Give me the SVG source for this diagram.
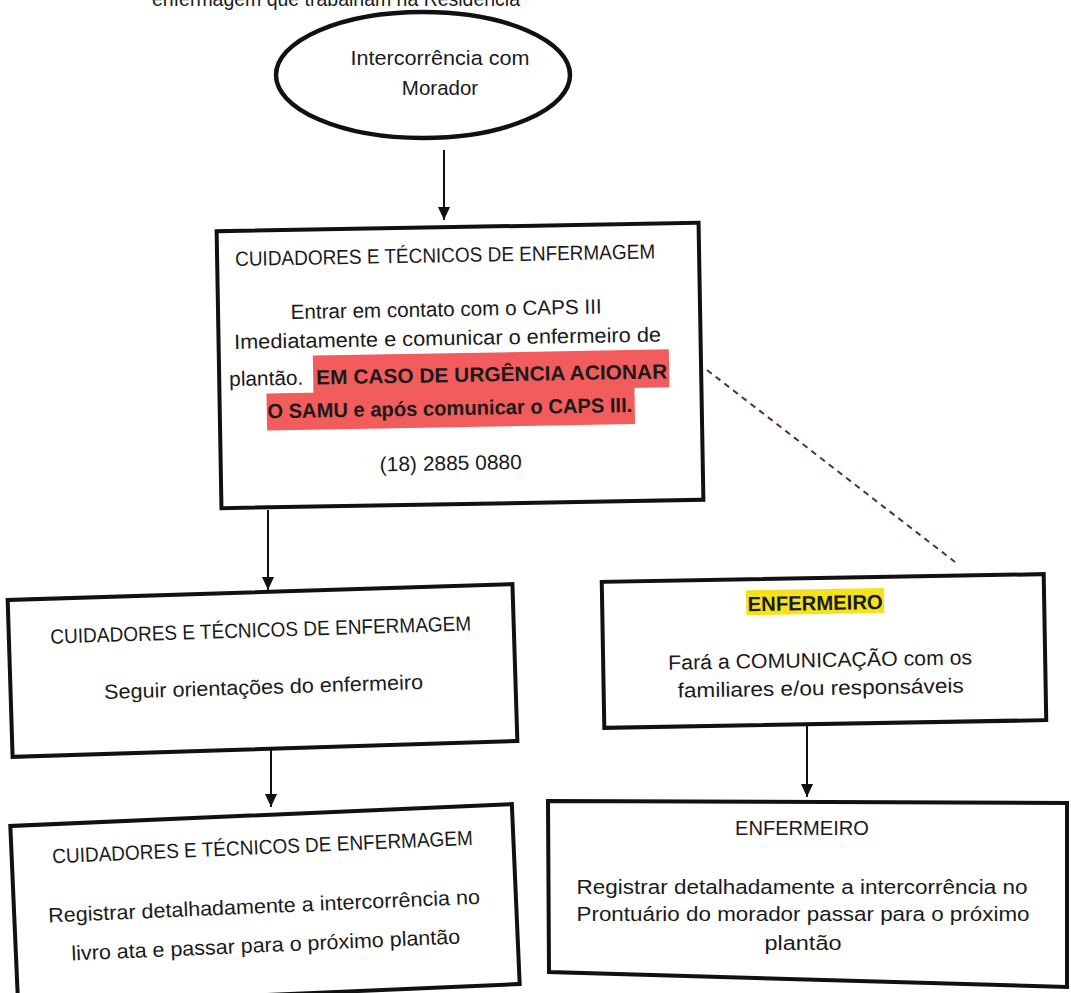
<svg xmlns="http://www.w3.org/2000/svg" width="1071" height="993" viewBox="0 0 1071 993">
<style>
.box{fill:#fff;stroke:#111;stroke-width:4}
.t{font-family:"Liberation Sans",Arial,sans-serif;font-size:20.5px;fill:#1a1a1a}
.b{font-weight:bold}
.c{text-anchor:middle}
.conn{stroke:#111;stroke-width:2;fill:none}
.dash{stroke:#5c2b3c;stroke-width:2;stroke-dasharray:6 5;fill:none}
.red{fill:#f25c5c}
.yel{fill:#f4e21c}
</style>
<defs>
<marker id="ah" markerUnits="userSpaceOnUse" viewBox="0 0 13 12" markerWidth="13" markerHeight="12" refX="13" refY="6" orient="auto">
<path d="M0,0 L13,6 L0,12 z" fill="#111"/>
</marker>
</defs>
<rect width="1071" height="993" fill="#fff"/>
<text class="t" x="152" y="6" font-size="19.5" textLength="368" lengthAdjust="spacingAndGlyphs">enfermagem que trabalham na Residência</text>

<g id="connectors">
<line class="conn" x1="444" y1="150" x2="444" y2="220" marker-end="url(#ah)"/>
<line class="conn" x1="268" y1="510" x2="268" y2="590" marker-end="url(#ah)"/>
<line class="conn" x1="271" y1="742" x2="271" y2="807" marker-end="url(#ah)"/>
<line class="conn" x1="807" y1="724" x2="807" y2="797" marker-end="url(#ah)"/>
<line class="dash" x1="707" y1="370" x2="955" y2="562"/>
</g>

<g id="start">
<ellipse cx="423" cy="75" rx="147" ry="63" fill="#fff" stroke="#111" stroke-width="4.5"/>
<text class="t c" x="440" y="65" font-size="21" textLength="179" lengthAdjust="spacingAndGlyphs">Intercorrência com</text>
<text class="t c" x="440" y="95" font-size="21">Morador</text>
</g>

<g id="box1" transform="rotate(-1 460 365)">
<rect class="box" x="219" y="227" width="482" height="277"/>
<text class="t c" x="447" y="262" textLength="420" lengthAdjust="spacingAndGlyphs">CUIDADORES E TÉCNICOS DE ENFERMAGEM</text>
<text class="t c" x="447" y="316" textLength="311" lengthAdjust="spacingAndGlyphs">Entrar em contato com o CAPS III</text>
<text class="t c" x="448" y="345" textLength="427" lengthAdjust="spacingAndGlyphs">Imediatamente e comunicar o enfermeiro de</text>
<rect class="red" x="313" y="353" width="356" height="38"/>
<rect class="red" x="266" y="390" width="368" height="37"/>
<text class="t" x="229" y="382" textLength="74" lengthAdjust="spacingAndGlyphs">plantão.</text>
<text class="t b" x="316" y="382" textLength="351" lengthAdjust="spacingAndGlyphs">EM CASO DE URGÊNCIA ACIONAR</text>
<text class="t b c" x="449" y="415" textLength="365" lengthAdjust="spacingAndGlyphs">O SAMU e após comunicar o CAPS III.</text>
<text class="t c" x="449" y="470" textLength="142" lengthAdjust="spacingAndGlyphs">(18) 2885 0880</text>
</g>

<g id="box2" transform="rotate(-1.8 262 670)">
<rect class="box" x="10" y="592" width="505" height="157"/>
<text class="t c" x="262" y="637" textLength="421" lengthAdjust="spacingAndGlyphs">CUIDADORES E TÉCNICOS DE ENFERMAGEM</text>
<text class="t c" x="263" y="694" textLength="319" lengthAdjust="spacingAndGlyphs">Seguir orientações do enfermeiro</text>
</g>

<g id="box3" transform="rotate(-1 824 651)">
<rect class="box" x="603" y="578" width="442" height="146"/>
<rect class="yel" x="747" y="589" width="138" height="25"/>
<text class="t b c" x="816" y="610" textLength="135" lengthAdjust="spacingAndGlyphs">ENFERMEIRO</text>
<text class="t c" x="820" y="667" textLength="304" lengthAdjust="spacingAndGlyphs">Fará a COMUNICAÇÃO com os</text>
<text class="t c" x="820" y="695" textLength="286" lengthAdjust="spacingAndGlyphs">familiares e/ou responsáveis</text>
</g>

<g id="box4" transform="rotate(-2.5 265 905)">
<rect class="box" x="14" y="815" width="502" height="180"/>
<text class="t c" x="265" y="854" textLength="421" lengthAdjust="spacingAndGlyphs">CUIDADORES E TÉCNICOS DE ENFERMAGEM</text>
<text class="t c" x="264" y="913" textLength="432" lengthAdjust="spacingAndGlyphs">Registrar detalhadamente a intercorrência no</text>
<text class="t c" x="264" y="952" textLength="389" lengthAdjust="spacingAndGlyphs">livro ata e passar para o próximo plantão</text>
</g>

<g id="box5">
<polygon class="box" points="548,801 1067,803 1067,987 549,972"/>
<text class="t c" x="802" y="835" textLength="134" lengthAdjust="spacingAndGlyphs">ENFERMEIRO</text>
<text class="t c" x="802" y="894" textLength="451" lengthAdjust="spacingAndGlyphs">Registrar detalhadamente a intercorrência no</text>
<text class="t c" x="803" y="921" textLength="453" lengthAdjust="spacingAndGlyphs">Prontuário do morador passar para o próximo</text>
<text class="t c" x="803" y="950" textLength="77" lengthAdjust="spacingAndGlyphs">plantão</text>
</g>
</svg>
